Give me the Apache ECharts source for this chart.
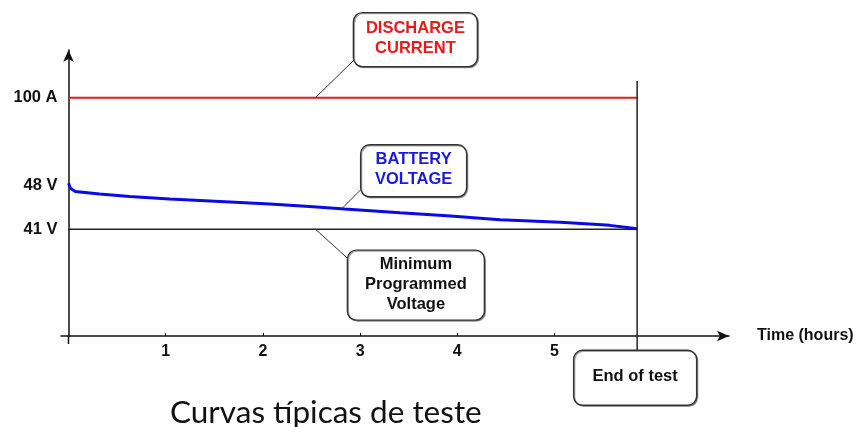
<!DOCTYPE html>
<html>
<head>
<meta charset="utf-8">
<script src="https://cdn.jsdelivr.net/npm/echarts@6/dist/echarts.min.js"></script>
<style>
html, body { margin: 0; padding: 0; background: #fff; }
#chart { width: 863px; height: 427px; }
</style>
</head>
<body>
<div id="chart"></div>
<script>
// curva da tensão da bateria: tempo (horas) x tensão (V)
const timeHours = [0, 0.02, 0.07, 0.32, 0.63, 1.04, 1.56, 2.07, 2.48, 2.84, 3.41, 3.93, 4.44, 5.06, 5.57, 5.83, 5.85]
const batteryVolts = [48.3, 47.5, 47.0, 46.6, 46.2, 45.8, 45.4, 45.0, 44.6, 44.2, 43.6, 43.1, 42.5, 42.1, 41.6, 41.1, 41.0]
// corrente de descarga constante e tensão mínima programada
const endOfTest = 5.85
const dischargeCurrent = 100
const minVoltage = 41
// marcas dos eixos
const timeTicks = [1, 2, 3, 4, 5]
const voltTicks = [41, 48]
const ampTicks = [100]
// linha vertical "End of test" (escala de corrente)
const endLineAmps = [107, -6]

const font = '"Liberation Sans", Arial, sans-serif'
const chart = echarts.init(document.getElementById('chart'))

chart.setOption({
  animation: false,
  title: {
    text: 'Curvas típicas de teste',
    left: 165,
    top: 392,
    textStyle: { fontFamily: 'Lato', fontSize: 31.5, fontWeight: 'normal', color: '#111' }
  },
  grid: { left: 68.5, right: 134, top: 50, bottom: 91 },
  xAxis: {
    type: 'value',
    min: 0,
    max: 6.795,
    name: 'Time (hours)',
    nameLocation: 'end',
    nameGap: 28,
    nameTextStyle: { fontFamily: font, fontWeight: 'bold', fontSize: 16, color: '#111' },
    axisLine: { onZero: false, symbol: ['none', 'arrow'], symbolSize: [8, 12], lineStyle: { color: '#111', width: 1.5 } },
    axisTick: { show: true, inside: true, length: 3, customValues: timeTicks, lineStyle: { color: '#111' } },
    axisLabel: { customValues: timeTicks, margin: 8, fontFamily: font, fontWeight: 'bold', fontSize: 16, color: '#111' },
    splitLine: { show: false }
  },
  yAxis: [
    {
      // tensão
      type: 'value',
      min: 24,
      max: 69.5,
      position: 'left',
      axisLine: { show: true, symbol: ['none', 'arrow'], symbolSize: [8, 12], lineStyle: { color: '#111', width: 1.5 } },
      axisTick: { show: false },
      axisLabel: { customValues: voltTicks, formatter: '{value} V', margin: 11, fontFamily: font, fontWeight: 'bold', fontSize: 16.5, color: '#111' },
      splitLine: { show: false }
    },
    {
      // corrente
      type: 'value',
      min: 0,
      max: 120,
      position: 'left',
      axisLine: { show: false },
      axisTick: { show: false },
      axisLabel: { customValues: ampTicks, formatter: '{value} A', margin: 11, fontFamily: font, fontWeight: 'bold', fontSize: 16.5, color: '#111' },
      splitLine: { show: false }
    }
  ],
  series: [
    {
      name: 'Discharge current',
      type: 'line',
      yAxisIndex: 1,
      symbol: 'none',
      data: [[0, dischargeCurrent], [endOfTest, dischargeCurrent]],
      lineStyle: { color: '#e41b1b', width: 2 }
    },
    {
      name: 'Minimum programmed voltage',
      type: 'line',
      yAxisIndex: 0,
      symbol: 'none',
      data: [[0, minVoltage], [endOfTest, minVoltage]],
      lineStyle: { color: '#222', width: 1.5 }
    },
    {
      name: 'Battery voltage',
      type: 'line',
      yAxisIndex: 0,
      symbol: 'none',
      data: timeHours.map((t, i) => [t, batteryVolts[i]]),
      lineStyle: { color: '#0a0ae6', width: 3 }
    },
    {
      name: 'End of test',
      type: 'line',
      yAxisIndex: 1,
      symbol: 'none',
      clip: false,
      data: endLineAmps.map(a => [endOfTest, a]),
      lineStyle: { color: '#222', width: 1.5 }
    }
  ]
})

// valor da curva num instante (para ancorar o balão)
function voltAt(t) {
  for (let i = 1; i < timeHours.length; i++) {
    if (t <= timeHours[i]) {
      const k = (t - timeHours[i - 1]) / (timeHours[i] - timeHours[i - 1])
      return batteryVolts[i - 1] + k * (batteryVolts[i] - batteryVolts[i - 1])
    }
  }
  return batteryVolts[batteryVolts.length - 1]
}

const px = (x, y, yi) => chart.convertToPixel({ xAxisIndex: 0, yAxisIndex: yi }, [x, y])

// balões: ponto de ancoragem + caixa relativa a ele
const callouts = [
  { text: 'DISCHARGE\nCURRENT', color: '#e41b1b', at: px(2.54, dischargeCurrent, 1), box: [38, -85, 124, 54], lead: [38, -37] },
  { text: 'BATTERY\nVOLTAGE', color: '#1a1ad8', at: px(2.81, voltAt(2.81), 0), box: [19, -64, 106, 52], lead: [19, -19] },
  { text: 'Minimum\nProgrammed\nVoltage', color: '#111', at: px(2.54, minVoltage, 0), box: [32, 21, 137, 70], lead: [32, 29] },
  { text: 'End of test', color: '#111', at: px(endOfTest, endLineAmps[1], 1), box: [-63.5, 0, 123, 55], lead: null }
]

const graphics = []
// prolongamentos dos eixos além da origem
const o = px(0, 24, 0)
graphics.push({ type: 'line', shape: { x1: o[0] - 8, y1: o[1], x2: o[0], y2: o[1] }, style: { stroke: '#111', lineWidth: 1.5 } })
graphics.push({ type: 'line', shape: { x1: o[0], y1: o[1], x2: o[0], y2: o[1] + 8 }, style: { stroke: '#111', lineWidth: 1.5 } })

callouts.forEach(c => {
  const [ax, ay] = c.at
  const [bx, by, bw, bh] = c.box
  if (c.lead) {
    graphics.push({ type: 'line', z: 10, shape: { x1: ax, y1: ay, x2: ax + c.lead[0], y2: ay + c.lead[1] }, style: { stroke: '#333', lineWidth: 1 } })
  }
  graphics.push({
    type: 'rect', z: 11,
    shape: { x: ax + bx, y: ay + by, width: bw, height: bh, r: 9 },
    style: { fill: '#fff', stroke: '#333', lineWidth: 1.4, shadowColor: 'rgba(0,0,0,0.35)', shadowOffsetX: 1, shadowOffsetY: 1 }
  })
  graphics.push({
    type: 'text', z: 12,
    style: {
      text: c.text, x: ax + bx + bw / 2, y: ay + by + bh / 2 - 1,
      align: 'center', verticalAlign: 'middle',
      font: 'bold 16.5px ' + font, lineHeight: 20, fill: c.color
    }
  })
})

chart.setOption({ graphic: graphics })
</script>
</body>
</html>
